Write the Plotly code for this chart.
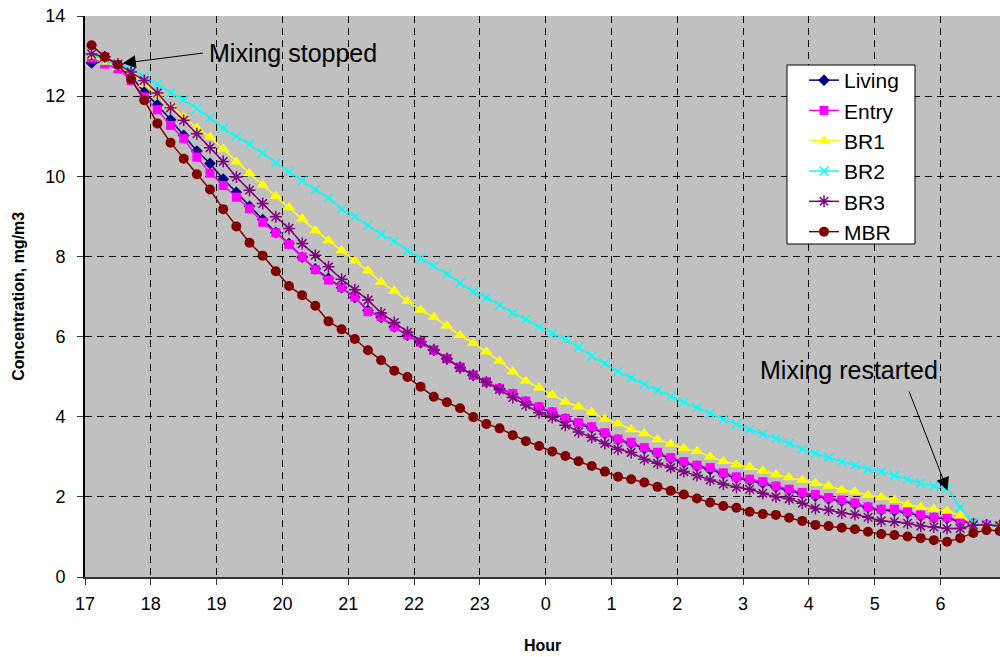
import plotly.graph_objects as go

# Sample times (decimal hours, continuing past midnight as 24+)
hours = [17.1, 17.3, 17.5, 17.7, 17.9, 18.1, 18.3, 18.5, 18.7, 18.9,
         19.1, 19.3, 19.5, 19.7, 19.9, 20.1, 20.3, 20.5, 20.7, 20.9,
         21.1, 21.3, 21.5, 21.7, 21.9, 22.1, 22.3, 22.5, 22.7, 22.9,
         23.1, 23.3, 23.5, 23.7, 23.9, 24.1, 24.3, 24.5, 24.7, 24.9,
         25.1, 25.3, 25.5, 25.7, 25.9, 26.1, 26.3, 26.5, 26.7, 26.9,
         27.1, 27.3, 27.5, 27.7, 27.9, 28.1, 28.3, 28.5, 28.7, 28.9,
         29.1, 29.3, 29.5, 29.7, 29.9, 30.1, 30.3, 30.5, 30.7, 30.9]

living = [12.83, 12.85, 12.72, 12.50, 12.10, 11.78, 11.41, 11.02, 10.63, 10.32,
          9.93, 9.60, 9.25, 8.92, 8.60, 8.32, 7.98, 7.69, 7.45, 7.22,
          6.98, 6.65, 6.48, 6.24, 6.03, 5.85, 5.66, 5.44, 5.23, 5.03,
          4.86, 4.70, 4.56, 4.37, 4.23, 4.10, 3.94, 3.82, 3.72, 3.57,
          3.42, 3.33, 3.20, 3.08, 2.95, 2.85, 2.76, 2.68, 2.57, 2.47,
          2.41, 2.34, 2.24, 2.16, 2.08, 2.02, 1.95, 1.89, 1.82, 1.73,
          1.67, 1.65, 1.60, 1.52, 1.47, 1.46, 1.40, 1.33, 1.30, 1.27]

entry = [12.95, 12.80, 12.68, 12.39, 11.98, 11.66, 11.27, 10.94, 10.48, 10.08,
         9.77, 9.48, 9.19, 8.85, 8.59, 8.30, 7.99, 7.67, 7.41, 7.22,
         6.99, 6.62, 6.50, 6.25, 6.04, 5.86, 5.66, 5.45, 5.24, 5.04,
         4.87, 4.71, 4.58, 4.39, 4.25, 4.12, 3.96, 3.85, 3.75, 3.60,
         3.44, 3.36, 3.23, 3.11, 2.98, 2.88, 2.79, 2.73, 2.60, 2.50,
         2.44, 2.38, 2.27, 2.19, 2.11, 2.06, 1.98, 1.92, 1.85, 1.75,
         1.69, 1.69, 1.63, 1.55, 1.49, 1.49, 1.42, 1.34, 1.31, 1.27]

br1 = [13.00, 12.85, 12.72, 12.60, 12.30, 12.02, 11.75, 11.48, 11.20, 10.98,
       10.68, 10.36, 10.07, 9.78, 9.50, 9.22, 8.94, 8.65, 8.40, 8.15,
       7.89, 7.64, 7.36, 7.14, 6.88, 6.66, 6.49, 6.27, 6.03, 5.84,
       5.62, 5.39, 5.12, 4.89, 4.72, 4.54, 4.37, 4.25, 4.11, 3.94,
       3.83, 3.68, 3.58, 3.43, 3.32, 3.21, 3.14, 3.00, 2.89, 2.81,
       2.74, 2.65, 2.56, 2.48, 2.42, 2.34, 2.27, 2.17, 2.13, 2.04,
       1.99, 1.92, 1.81, 1.74, 1.70, 1.65, 1.53, 1.32, 1.30, 1.28]

br2 = [13.05, 12.90, 12.80, 12.69, 12.48, 12.29, 12.08, 11.91, 11.69, 11.46,
       11.20, 11.00, 10.80, 10.58, 10.34, 10.11, 9.88, 9.67, 9.46, 9.19,
       9.00, 8.78, 8.55, 8.38, 8.15, 7.95, 7.76, 7.56, 7.34, 7.11,
       6.97, 6.78, 6.59, 6.43, 6.24, 6.08, 5.93, 5.73, 5.51, 5.33,
       5.12, 4.97, 4.81, 4.66, 4.51, 4.36, 4.23, 4.08, 3.93, 3.82,
       3.68, 3.57, 3.46, 3.33, 3.19, 3.08, 2.98, 2.88, 2.79, 2.69,
       2.63, 2.53, 2.44, 2.34, 2.27, 2.21, 1.74, 1.35, 1.32, 1.28]

br3 = [13.05, 12.98, 12.80, 12.60, 12.39, 12.08, 11.71, 11.40, 11.06, 10.71,
       10.37, 9.98, 9.65, 9.32, 8.99, 8.70, 8.32, 8.03, 7.74, 7.43,
       7.17, 6.91, 6.59, 6.35, 6.11, 5.88, 5.67, 5.45, 5.22, 5.04,
       4.86, 4.68, 4.48, 4.29, 4.10, 3.98, 3.79, 3.62, 3.48, 3.33,
       3.19, 3.11, 2.94, 2.84, 2.73, 2.63, 2.53, 2.42, 2.32, 2.24,
       2.19, 2.09, 2.00, 1.95, 1.84, 1.71, 1.67, 1.60, 1.56, 1.49,
       1.40, 1.38, 1.34, 1.27, 1.25, 1.21, 1.21, 1.30, 1.30, 1.28]

mbr = [13.27, 12.98, 12.78, 12.42, 11.90, 11.32, 10.84, 10.44, 10.05, 9.67,
       9.18, 8.75, 8.34, 8.02, 7.63, 7.26, 7.03, 6.77, 6.38, 6.18,
       5.94, 5.66, 5.41, 5.15, 4.99, 4.75, 4.50, 4.36, 4.21, 3.99,
       3.82, 3.71, 3.54, 3.39, 3.27, 3.13, 3.02, 2.89, 2.77, 2.63,
       2.50, 2.44, 2.36, 2.25, 2.15, 2.06, 1.96, 1.86, 1.77, 1.73,
       1.63, 1.57, 1.55, 1.48, 1.40, 1.30, 1.27, 1.23, 1.19, 1.13,
       1.07, 1.05, 1.01, 0.97, 0.92, 0.88, 0.97, 1.10, 1.17, 1.15]

tick_vals = [17, 18, 19, 20, 21, 22, 23, 24, 25, 26, 27, 28, 29, 30]
tick_text = ["17", "18", "19", "20", "21", "22", "23", "0", "1", "2", "3", "4", "5", "6"]

series = [
    ("Living", living, "#000080", "diamond", 9, 0),
    ("Entry", entry, "#FF00FF", "square", 9, 0),
    ("BR1", br1, "#FFFF00", "triangle-up", 11, 0),
    ("BR2", br2, "#00FFFF", "x-thin-open", 9, 1.5),
    ("BR3", br3, "#800080", "asterisk-open", 10, 1.5),
    ("MBR", mbr, "#800000", "circle", 10, 0),
]

FONT = "Arial, 'Liberation Sans', sans-serif"

fig = go.Figure()
for name, vals, color, sym, size, lw in series:
    fig.add_trace(go.Scatter(
        x=hours, y=vals, name=name, mode="lines+markers",
        line=dict(color=color, width=1.5),
        marker=dict(symbol=sym, size=size, color=color,
                    line=dict(width=lw, color=color)),
    ))

grid_dash = "7px,5px"
fig.update_layout(
    width=1000, height=657,
    margin=dict(l=85, r=0, t=16, b=80),
    paper_bgcolor="white",
    plot_bgcolor="#C0C0C0",
    font=dict(family=FONT, size=18, color="black"),
    showlegend=True,
    legend=dict(
        x=0.7858, y=0.9216, xanchor="left", yanchor="top",
        bgcolor="rgba(0,0,0,0)", borderwidth=0,
        font=dict(family=FONT, size=21, color="black"),
        itemwidth=30,
    ),
    xaxis=dict(
        range=[17, 30.905], automargin=False,
        tickvals=tick_vals, ticktext=tick_text,
        showgrid=True, gridcolor="black", gridwidth=1, griddash=grid_dash,
        zeroline=False,
        showline=True, linecolor="#333333", linewidth=2,
        ticks="outside", ticklen=6, tickcolor="#333333",
        ticklabelstandoff=3,
        tickfont=dict(family=FONT, size=18),
    ),
    yaxis=dict(
        range=[0, 14], dtick=2, automargin=False,
        showgrid=True, gridcolor="black", gridwidth=1, griddash=grid_dash,
        zeroline=False,
        showline=True, linecolor="black", linewidth=2,
        ticks="outside", ticklen=6, tickcolor="#333333",
        ticklabelstandoff=8,
        tickfont=dict(family=FONT, size=18),
    ),
)

# Legend box (drawn above the data; legend entries sit on top of it)
fig.add_shape(type="rect", xref="paper", yref="paper", layer="above",
              x0=(787 - 85) / 915, x1=(915 - 85) / 915,
              y0=(577 - 244) / 561, y1=(577 - 65) / 561,
              fillcolor="white", line=dict(color="black", width=1))

# Axis titles
fig.add_annotation(x=0.5, y=-0.122, xref="paper", yref="paper", text="<b>Hour</b>",
                   showarrow=False, xanchor="center", yanchor="middle",
                   font=dict(family=FONT, size=16, color="black"))
fig.add_annotation(x=-0.073, y=0.5, xref="paper", yref="paper",
                   text="<b>Concentration, mg/m3</b>", textangle=-90,
                   showarrow=False, xanchor="center", yanchor="middle",
                   font=dict(family=FONT, size=16, color="black"))

# Annotations: text labels
fig.add_annotation(x=18.862, y=13.077, xref="x", yref="y", text="Mixing stopped",
                   showarrow=False, xanchor="left", yanchor="middle", borderpad=0,
                   font=dict(family=FONT, size=25, color="black"))
fig.add_annotation(x=27.236, y=5.17, xref="x", yref="y", text="Mixing restarted",
                   showarrow=False, xanchor="left", yanchor="middle", borderpad=0,
                   font=dict(family=FONT, size=25, color="black"))
# Arrows
fig.add_annotation(x=17.574, y=12.82, ax=18.816, ay=13.08, xref="x", yref="y",
                   axref="x", ayref="y", text="", showarrow=True,
                   arrowhead=2, arrowsize=2.6, arrowwidth=1, arrowcolor="black")
fig.add_annotation(x=30.107, y=2.16, ax=29.515, ay=4.667, xref="x", yref="y",
                   axref="x", ayref="y", text="", showarrow=True,
                   arrowhead=2, arrowsize=2.6, arrowwidth=1, arrowcolor="black")

fig.write_html("out.html", config={"displayModeBar": False},
               post_script="document.body.style.margin='0';document.body.style.padding='0';")
